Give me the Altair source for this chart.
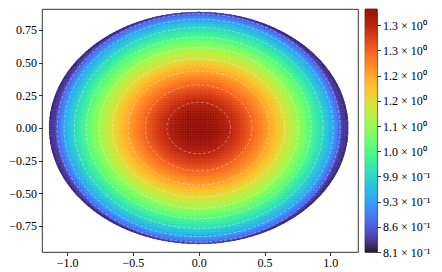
import numpy as np
import pandas as pd
import altair as alt

# ---- values ----
X_DOMAIN = [-1.19, 1.21]
Y_DOMAIN = [-0.949, 0.910]
X_TICKS = [-1.0, -0.5, 0.0, 0.5, 1.0]
Y_TICKS = [-0.75, -0.5, -0.25, 0.0, 0.25, 0.5, 0.75]

# elliptical domain (outer boundary) and elliptical level sets of the field
BOUND_A, BOUND_B = 1.135, 0.886
FIELD_A, FIELD_B = 1.092, 0.888
# level profile (0 = bottom of colour bar, 1 = top) versus elliptical radius
PROFILE_CENTER = 1.0
PROFILE_COEF, PROFILE_POW = 0.87, 1.565
EDGE_COEF, EDGE_POW = 0.08, 30.0
LEVEL_FLOOR = 0.045

# colour bar: tick positions (fraction of bar) and their labels
CB_TOP = 0.984
CB_TICKS = [0.0, 0.102, 0.204, 0.306, 0.408, 0.510, 0.612, 0.714, 0.816, 0.918]
CB_LABELS = ["8.1 × 10⁻¹", "8.6 × 10⁻¹", "9.3 × 10⁻¹", "9.9 × 10⁻¹", "1.0 × 10⁰",
             "1.1 × 10⁰", "1.2 × 10⁰", "1.2 × 10⁰", "1.3 × 10⁰", "1.3 × 10⁰"]
# contour lines drawn at these levels (same as colour-bar ticks)
CONTOUR_LEVELS = CB_TICKS[1:]

FONT = "Liberation Serif"


def level(rho):
    return PROFILE_CENTER - PROFILE_COEF * rho ** PROFILE_POW - EDGE_COEF * rho ** EDGE_POW


def field(x, y):
    rho = np.sqrt((x / FIELD_A) ** 2 + (y / FIELD_B) ** 2)
    return np.clip(level(rho), LEVEL_FLOOR, 1)


def rho_b(x, y):
    return np.sqrt((x / BOUND_A) ** 2 + (y / BOUND_B) ** 2)


# ---- field grid (coarse inside, refined along the boundary) ----
STEP = 0.0125
SUB = 4
xc = np.arange(-1.15, 1.15 + 1e-9, STEP)
yc = np.arange(-0.90, 0.90 + 1e-9, STEP)
XX, YY = np.meshgrid(xc, yc)
h = STEP / 2
corners = [rho_b(XX + dx, YY + dy) for dx in (-h, h) for dy in (-h, h)]
all_in = np.all([c <= 1 for c in corners], axis=0)
any_in = np.any([c <= 1 for c in corners], axis=0) | (rho_b(XX, YY) <= 1)
border = any_in & ~all_in

parts = [pd.DataFrame({"x": XX[all_in], "y": YY[all_in], "h": h})]
fs = STEP / SUB
offs = (np.arange(SUB) + 0.5) * fs - h
bx, by = XX[border], YY[border]
for ox in offs:
    for oy in offs:
        sx, sy = bx + ox, by + oy
        keep = rho_b(sx, sy) <= 1
        parts.append(pd.DataFrame({"x": sx[keep], "y": sy[keep], "h": fs / 2}))
grid = pd.concat(parts, ignore_index=True)
grid["v"] = field(grid["x"].values, grid["y"].values)
grid = grid.round(5)

# ---- contour lines ----
rows = []
theta = np.linspace(0, 2 * np.pi, 181)
for k, lv in enumerate(CONTOUR_LEVELS):
    lo, hi = 0.0, 1.2
    for _ in range(60):
        mid = 0.5 * (lo + hi)
        if level(mid) > lv:
            lo = mid
        else:
            hi = mid
    r = 0.5 * (lo + hi)
    for i, th in enumerate(theta):
        rows.append({"k": k, "i": i, "x": FIELD_A * r * np.cos(th), "y": FIELD_B * r * np.sin(th)})
contours = pd.DataFrame(rows)

color_scale = alt.Scale(scheme="turbo", domain=[0, 1])
xs = alt.Scale(domain=X_DOMAIN, nice=False, zero=False)
ys = alt.Scale(domain=Y_DOMAIN, nice=False, zero=False)

heat = alt.Chart(grid).transform_calculate(
    x0="datum.x - datum.h", x1="datum.x + datum.h",
    y0="datum.y - datum.h", y1="datum.y + datum.h",
).mark_rect(strokeWidth=0.4).encode(
    x=alt.X("x0:Q", scale=xs, axis=alt.Axis(values=X_TICKS, format=".1f", title=None)),
    x2="x1:Q",
    y=alt.Y("y0:Q", scale=ys, axis=alt.Axis(values=Y_TICKS, format=".2f", title=None)),
    y2="y1:Q",
    color=alt.Color("v:Q", scale=color_scale, legend=None),
    stroke=alt.Stroke("v:Q", scale=color_scale, legend=None),
)

lines = alt.Chart(contours).mark_line(
    color="white", strokeWidth=0.8, opacity=0.45, strokeDash=[3, 2], strokeJoin="round"
).encode(
    x=alt.X("x:Q", scale=xs),
    y=alt.Y("y:Q", scale=ys),
    detail="k:N",
    order="i:Q",
)

main = alt.layer(heat, lines).properties(width=316, height=243)

# ---- colour bar ----
CB_STEP = 0.003
tb = np.arange(0, CB_TOP, CB_STEP)
cb_df = pd.DataFrame({"t": np.round(tb, 4), "t2": np.round(np.minimum(tb + CB_STEP, CB_TOP), 4)})
label_arr = "[" + ",".join("'" + s + "'" for s in CB_LABELS) + "]"
label_expr = f"{label_arr}[round(datum.value / 0.102)]"

cbar = alt.Chart(cb_df).mark_rect(strokeWidth=0.5).encode(
    x=alt.value(0), x2=alt.value(12),
    y=alt.Y("t:Q", scale=alt.Scale(domain=[0, CB_TOP], nice=False, zero=False),
            axis=alt.Axis(orient="right", values=CB_TICKS, labelExpr=label_expr, title=None)),
    y2="t2:Q",
    color=alt.Color("t:Q", scale=color_scale, legend=None),
    stroke=alt.Stroke("t:Q", scale=color_scale, legend=None),
).properties(width=12, height=243)

chart = alt.hconcat(main, cbar, spacing=5).properties(padding=0).configure(
    font=FONT
).configure_view(
    stroke="black", strokeWidth=0.8
).configure_axis(
    labelFont=FONT, labelFontSize=12, labelColor="black", tickColor="black",
    tickSize=3.5, tickWidth=0.8, labelPadding=2, grid=False, domain=False,
)

chart.save("out.html", embed_options={"renderer": "svg", "actions": False})
